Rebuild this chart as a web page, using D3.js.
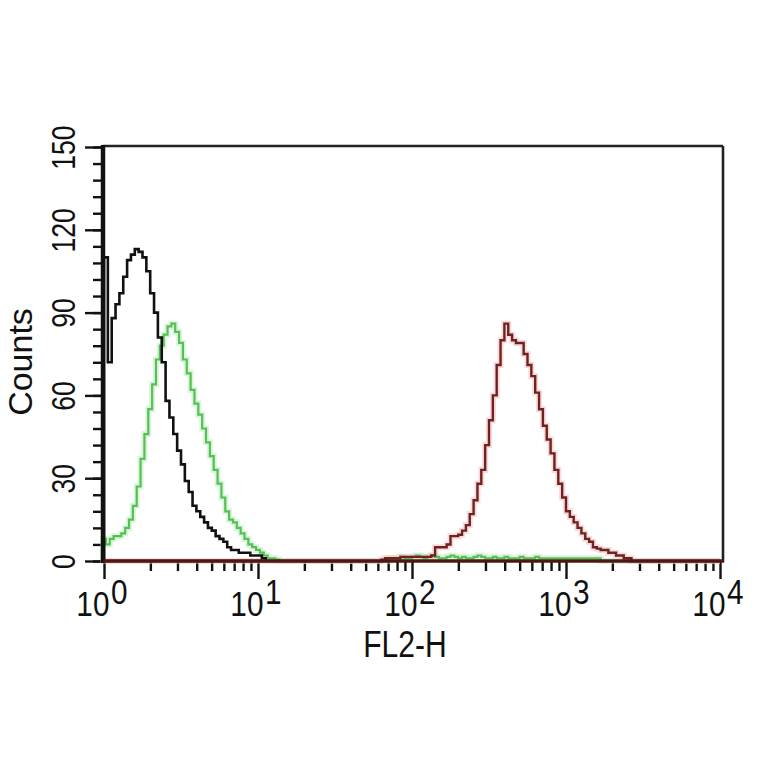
<!DOCTYPE html>
<html><head><meta charset="utf-8">
<script src="https://cdn.jsdelivr.net/npm/d3@7"></script>
<style>html,body{margin:0;padding:0;background:#fff;}svg{display:block;}</style>
</head><body>
<script>
// ---- data (counts per histogram bin; bins are equal widths in log10(FL2-H)) ----
const binWidth = 0.025;            // decades per bin
const blackStart = 0.0;            // log10 of first bin
const blackCounts = [110,72,88,93,97,103,109,111,113,112,110,105,97,90,81,72,58,52,46,40,35,29,25,20,18,16,14,12,11,9,8,7,5,4,4,3,3,3,2,2,2,1,0];
const greenStart = -0.0125;
const greenCounts = [8,6,8,9,9,10,12,15,20,27,37,46,55,64,73,78,82,85,86,83,79,73,68,62,57,53,48,43,38,33,28,23,18,15,14,12,10,8,6,5,4,3,2,1,1,0.5,0];
const greenTailStart = 1.85;
const greenTailCounts = [1,1,1,1.5,1,1,1.5,2,1.5,1,1.5,2,1.5,1,1,1.5,2,1.5,1,1.5,1,1,1.5,2,1.5,1,1,1.5,1,1,1.5,1,1,1,1.5,1,1,1,1.5,1,1,1,1,1,1,1,1,1,1,1,1,1,1,1,1,0];
const redStart = 1.8;
const redCounts = [0.5,1,1,1,1,1.5,1.5,1.5,1.5,1.5,1.5,1.5,1.5,2,5,5,5,6,9,9,9.5,11,13,17,22,28,33,42,51,60,71,80,86,82,80,79,79,75,71,67,61,55,49,44,39,33,28,23,18,16,14,12,10,8,7,5,4.5,4,4,3,3,2,2,1,1,0];
const yMajorTicks = [0,30,60,90,120,150];
const yMinorStep = 6;
const xDecades = [1,10,100,1000,10000];
const xExponents = ["0","1","2","3","4"];
const xTitle = "FL2-H";
const yTitle = "Counts";

// ---- drawing ----
const W = 764, H = 764;
const FONT = "'Liberation Sans', Arial, Helvetica, sans-serif";
const svg = d3.select("body").append("svg").attr("width", W).attr("height", H);
svg.append("rect").attr("width", W).attr("height", H).attr("fill", "#fff");

const x = d3.scaleLog().domain([1, 10000]).range([104, 720]);
const y = d3.scaleLinear().domain([0, 150]).range([561, 147]);
const xc = v => Math.max(103, x(v));

function seriesPoints(start, counts) {
  return counts.map((c, i) => [Math.pow(10, start + i * binWidth), c]);
}
const line = d3.line().x(d => xc(d[0])).y(d => y(d[1])).curve(d3.curveStepAfter);

// axes ticks
const minorY = d3.range(0, 151, yMinorStep);
svg.append("g").attr("transform", "translate(103,0)")
  .call(d3.axisLeft(y).tickValues(minorY).tickSize(10).tickFormat(""))
  .call(g => g.select(".domain").remove())
  .call(g => g.selectAll("line").attr("stroke", "#111").attr("stroke-width", 2.4));
const yMaj = svg.append("g").attr("transform", "translate(103,0)")
  .call(d3.axisLeft(y).tickValues(yMajorTicks).tickSize(18))
  .call(g => g.select(".domain").remove())
  .call(g => g.selectAll("line").attr("stroke", "#111").attr("stroke-width", 2.4));
yMaj.selectAll("text")
  .attr("x", null).attr("dy", null)
  .attr("transform", "translate(-28,0) rotate(-90) scale(0.78,1)")
  .attr("text-anchor", "middle")
  .attr("fill", "#111")
  .style("font-family", FONT).style("font-size", "34px");

const minorX = [];
[1, 10, 100, 1000].forEach(d => { for (let k = 2; k <= 9; k++) minorX.push(d * k); });
svg.append("g").attr("transform", "translate(0,561)")
  .call(d3.axisBottom(x).tickValues(minorX).tickSize(10).tickFormat(""))
  .call(g => g.select(".domain").remove())
  .call(g => g.selectAll("line").attr("stroke", "#111").attr("stroke-width", 2.4));
svg.append("g").attr("transform", "translate(0,561)")
  .call(d3.axisBottom(x).tickValues(xDecades).tickSize(18).tickFormat(""))
  .call(g => g.select(".domain").remove())
  .call(g => g.selectAll("line").attr("stroke", "#111").attr("stroke-width", 2.4));

xDecades.forEach((d, i) => {
  const t = svg.append("text")
    .attr("transform", `translate(${x(d) - 2},616) scale(0.85,1)`)
    .attr("text-anchor", "middle")
    .attr("fill", "#111")
    .style("font-family", FONT).style("font-size", "35px");
  t.append("tspan").text("10");
  t.append("tspan").attr("dy", -12).attr("dx", 2).text(xExponents[i]);
});

// titles
svg.append("text").attr("transform", "translate(405,657) scale(0.86,1.08)")
  .attr("text-anchor", "middle").attr("fill", "#111")
  .style("font-family", FONT).style("font-size", "35px").text(xTitle);
svg.append("text").attr("transform", "translate(32,362) rotate(-90)")
  .attr("text-anchor", "middle").attr("fill", "#111")
  .style("font-family", FONT).style("font-size", "34px").text(yTitle);

// frame
svg.append("line").attr("x1", 103).attr("x2", 723).attr("y1", 146).attr("y2", 146)
  .attr("stroke", "#222").attr("stroke-width", 2.6);
svg.append("line").attr("x1", 723).attr("x2", 723).attr("y1", 146).attr("y2", 562)
  .attr("stroke", "#222").attr("stroke-width", 2.6);

// series
const greenPts = [[1, 0]].concat(seriesPoints(greenStart, greenCounts))
  .concat(seriesPoints(greenTailStart, greenTailCounts)).concat([[10000, 0]]);
const blackPts = [[1, 0]].concat(seriesPoints(blackStart, blackCounts));
const redPts = [[1, 0]].concat(seriesPoints(redStart, redCounts)).concat([[10000, 0]]);

// halos
svg.append("path").datum(greenPts).attr("d", line).attr("fill", "none")
  .attr("stroke", "#b8ecb8").attr("stroke-width", 6).attr("opacity", 0.5);
svg.append("path").datum(redPts).attr("d", line).attr("fill", "none")
  .attr("stroke", "#f3b6b6").attr("stroke-width", 6).attr("opacity", 0.5);

svg.append("path").datum(greenPts).attr("d", line).attr("fill", "none")
  .attr("stroke", "#56c056").attr("stroke-width", 2.2);
svg.append("path").datum(blackPts).attr("d", line).attr("fill", "none")
  .attr("stroke", "#111").attr("stroke-width", 2.6);

// left axis line (thick)
svg.append("line").attr("x1", 103).attr("x2", 103).attr("y1", 145).attr("y2", 563)
  .attr("stroke", "#111").attr("stroke-width", 4.5);

svg.append("path").datum(redPts).attr("d", line).attr("fill", "none")
  .attr("stroke", "#6e2222").attr("stroke-width", 2.4);
// baseline
svg.append("line").attr("x1", 103).attr("x2", 724).attr("y1", y(0)).attr("y2", y(0))
  .attr("stroke", "#4e1812").attr("stroke-width", 3.5);
</script>
</body></html>
